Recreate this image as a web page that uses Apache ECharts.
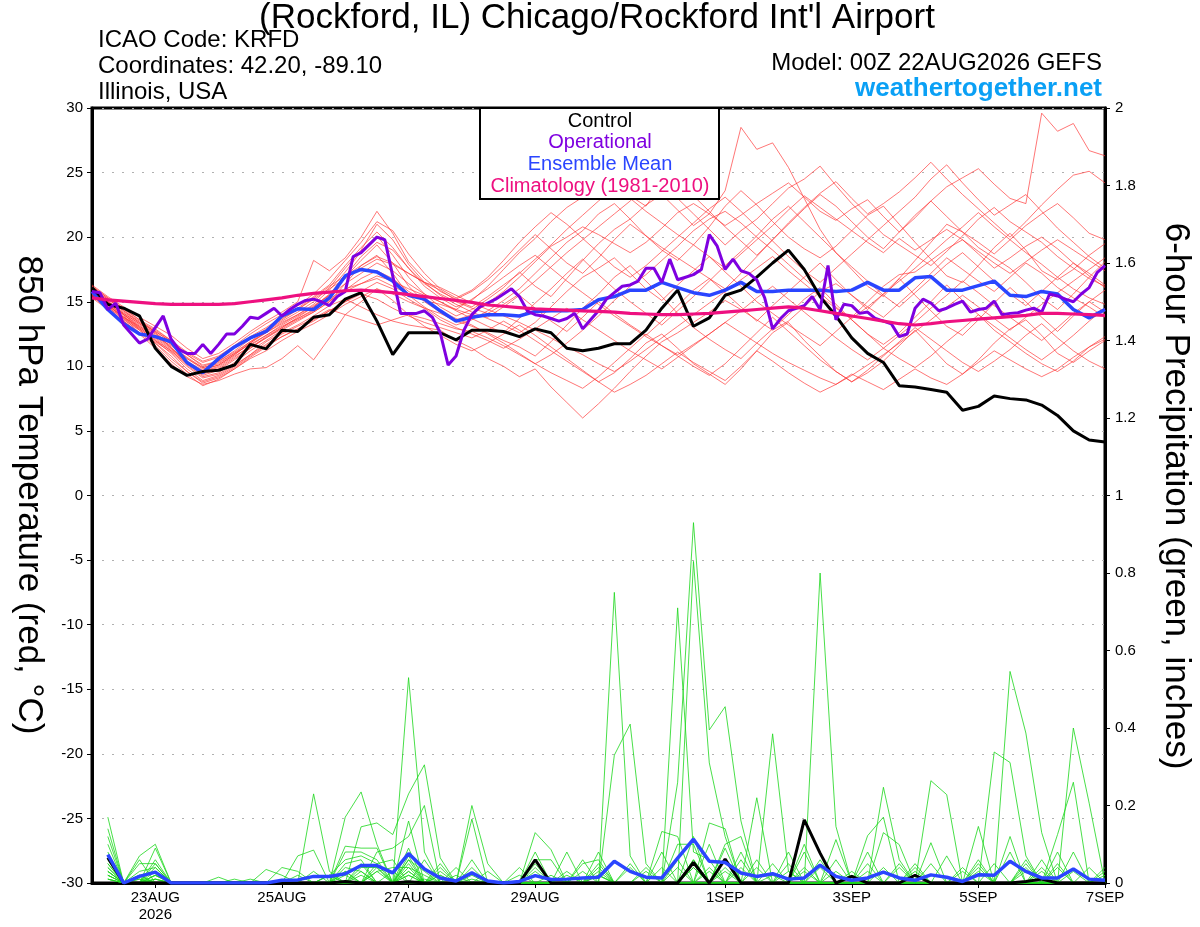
<!DOCTYPE html>
<html>
<head>
<meta charset="utf-8">
<script src="https://cdn.jsdelivr.net/npm/echarts@6/dist/echarts.min.js"></script>
<style>
  html, body { margin: 0; padding: 0; background: #fff; }
  #chart { width: 1200px; height: 927px; }
</style>
</head>
<body>
<div id="chart"></div>
<script>
// forecast hours counted from 00Z 22AUG2026
const tickHours = [24, 72, 120, 168, 240, 288, 336, 384]
const tickLabels = ['23AUG\n2026', '25AUG', '27AUG', '29AUG', '1SEP', '3SEP', '5SEP', '7SEP']

// 850 hPa temperature, 6-hourly, hour 0..384
const controlT = [
  16.1, 14.8, 14.5, 13.9, 11.4, 10.0, 9.3, 9.6, 9.7, 10.1, 11.7, 11.35, 12.8,
  12.7, 13.8, 14.0, 15.2, 15.7, 13.5, 10.9, 12.6, 12.6, 12.6, 12.05, 12.8, 12.8,
  12.7, 12.3, 12.9, 12.6, 11.4, 11.2, 11.4, 11.75, 11.75, 12.8, 14.5, 15.9, 13.1,
  13.75, 15.5, 15.9, 16.9, 18.0, 19.0, 17.5, 15.4, 13.9, 12.2, 11.0, 10.3, 8.5,
  8.4, 8.2, 8.0, 6.6, 6.9, 7.7, 7.5, 7.4, 7.0, 6.2, 5.0, 4.3, 4.15
]
const meanT = [
  15.8, 14.4, 13.3, 12.5, 12.3, 11.9, 10.3, 9.5, 10.6, 11.5, 12.2, 12.7, 13.9,
  14.45, 14.4, 15.3, 17.0, 17.5, 17.3, 16.6, 15.5, 15.2, 14.3, 13.5, 13.8, 14.0,
  14.0, 13.9, 14.25, 14.3, 14.3, 14.4, 15.15, 15.4, 15.9, 15.9, 16.5, 16.1, 15.7,
  15.5, 15.9, 16.5, 15.8, 15.8, 15.9, 15.9, 15.9, 15.8, 15.9, 16.5, 15.9, 15.9,
  16.85, 16.95, 15.9, 15.9, 16.25, 16.6, 15.5, 15.4, 15.8, 15.6, 14.4, 13.75, 14.4
]
const climT = [
  15.3, 15.15, 15.05, 14.95, 14.85, 14.8, 14.8, 14.8, 14.8, 14.85, 15.0, 15.15, 15.3,
  15.5, 15.65, 15.75, 15.85, 15.9, 15.8, 15.7, 15.55, 15.4, 15.25, 15.1, 14.95, 14.75,
  14.65, 14.55, 14.45, 14.4, 14.35, 14.3, 14.25, 14.2, 14.1, 14.05, 14.0, 14.0, 14.05,
  14.1, 14.2, 14.3, 14.4, 14.5, 14.6, 14.5, 14.3, 14.1, 13.9, 13.7, 13.5, 13.3,
  13.2, 13.3, 13.45, 13.55, 13.65, 13.75, 13.85, 13.95, 14.1, 14.1, 14.05, 14.0, 13.95
]
// operational run, 3-hourly, hour 0..384
const opT = [
  15.8, 15.7, 14.4, 14.9, 13.2, 12.5, 11.8, 12.1, 13.0, 13.9, 12.1, 11.3, 11.0, 11.0, 11.7, 11.0,
  11.7, 12.5, 12.5, 13.1, 13.8, 13.7, 14.1, 14.5, 13.9, 14.4, 14.8, 15.1, 15.2, 15.0, 14.7, 15.4,
  15.8, 18.5, 18.8, 19.4, 20.0, 19.8, 17.0, 14.1, 14.1, 14.1, 14.3, 13.8, 12.6, 10.1, 10.8, 12.8,
  14.0, 14.6, 14.9, 15.2, 15.6, 16.0, 15.4, 14.3, 14.0, 13.9, 13.7, 13.5, 13.7, 14.1, 12.9, 13.6,
  14.3, 15.2, 15.7, 16.2, 16.3, 16.6, 17.6, 17.6, 16.5, 18.3, 16.7, 16.9, 17.1, 17.5, 20.2, 19.3,
  17.5, 18.3, 17.4, 17.2, 16.7, 15.3, 12.9, 13.7, 14.3, 14.5, 14.7, 15.4, 14.4, 17.8, 13.6, 14.8,
  14.7, 14.1, 14.2, 13.7, 13.5, 13.3, 12.3, 12.5, 14.5, 15.2, 14.9, 14.3, 14.5, 14.8, 15.05, 14.2,
  14.4, 14.5, 15.05, 14.0, 14.1, 14.15, 14.35, 14.5, 14.2, 15.6, 15.45, 15.2, 15.0, 15.6, 16.1, 17.25,
  17.8
]
// ensemble members, 6-hourly, hour 0..384
const memberT = [
  [16.0,15.1,14.0,13.2,12.4,11.5,10.2,9.4,9.8,10.6,11.4,12.2,12.9,
   13.6,14.2,15.0,16.4,17.8,18.6,17.2,15.5,14.6,13.8,13.2,13.6,14.3,
   15.1,16.0,17.2,18.4,19.6,20.5,21.8,22.6,21.4,20.1,19.0,18.2,19.4,
   20.8,22.4,23.6,22.5,21.2,20.0,19.1,18.4,19.3,20.5,21.7,22.4,21.0,
   19.6,18.3,17.0,16.5,17.8,19.2,20.3,19.0,17.4,16.7,17.5,18.6,19.5],
  [15.6,14.6,13.6,12.8,11.8,10.6,9.6,8.8,9.2,9.9,10.8,11.6,12.3,
   12.9,13.5,14.3,15.0,15.6,15.2,14.5,13.9,13.4,13.0,12.6,12.2,12.8,
   13.5,12.8,12.0,11.2,10.4,9.6,8.8,9.5,10.6,11.8,12.5,11.4,10.2,
   9.4,8.6,9.8,11.2,12.6,13.4,12.0,10.8,9.6,8.8,9.5,10.4,11.6,
   12.8,11.5,10.2,9.4,10.5,11.8,12.9,13.6,12.4,11.0,10.3,11.2,12.0],
  [16.2,15.3,14.5,13.6,12.9,12.0,10.9,10.1,10.4,11.1,11.9,12.6,13.4,
   14.0,14.8,15.9,17.3,18.9,20.1,18.6,16.9,15.6,14.6,13.9,14.4,15.2,
   16.1,17.3,16.2,15.4,16.8,18.2,19.5,20.6,21.4,22.5,23.3,22.1,20.9,
   21.8,23.6,28.5,26.8,27.3,25.4,23.0,20.6,18.8,17.5,16.2,15.4,16.8,
   18.2,19.6,21.0,20.4,19.2,18.4,17.6,16.5,15.3,14.4,15.6,16.9,18.1],
  [15.8,14.9,13.9,12.9,12.0,11.0,9.8,8.9,9.3,10.0,10.9,11.9,12.6,
   13.2,13.9,14.7,15.2,14.6,14.0,13.5,13.2,13.0,12.8,12.0,11.4,10.6,
   10.0,9.2,9.8,8.4,7.2,6.0,7.1,8.3,9.6,10.8,11.9,12.6,13.4,
   14.2,15.1,14.4,13.6,12.8,13.5,14.6,15.8,16.4,15.5,14.6,13.8,14.9,
   16.0,17.2,18.4,17.5,16.6,15.8,16.9,18.0,17.2,16.1,15.3,14.6,13.8],
  [15.5,14.7,13.8,13.0,12.2,11.3,10.3,9.6,9.9,10.7,11.6,12.4,13.2,
   13.9,14.6,15.5,16.9,18.2,19.4,18.0,16.2,15.0,14.2,13.6,14.0,14.9,
   15.8,16.9,18.1,19.3,20.0,20.8,20.2,19.5,18.8,19.6,20.7,21.9,22.6,
   21.8,20.9,21.7,22.6,23.4,24.2,23.1,22.0,21.3,22.2,22.9,21.6,20.4,
   21.5,22.8,23.9,24.6,25.3,24.1,23.0,22.6,29.6,28.2,28.8,26.7,26.3],
  [15.9,14.8,13.7,12.6,11.6,10.4,9.4,8.5,9.0,9.8,10.6,11.2,12.0,
   12.7,13.3,14.0,14.8,15.4,16.0,15.6,15.0,14.5,14.1,13.5,13.1,12.6,
   12.0,11.5,10.8,11.9,13.2,14.5,15.6,16.9,17.8,16.6,15.4,14.1,13.0,
   12.1,11.3,10.6,11.8,12.9,14.0,15.2,16.1,14.8,13.6,12.5,11.7,12.6,
   13.8,15.0,16.3,15.1,14.0,12.8,11.9,11.0,10.2,9.6,10.4,11.5,12.3],
  [16.1,15.2,14.3,13.4,12.7,11.9,11.0,10.3,10.7,11.5,12.3,13.0,13.8,
   14.5,15.4,16.3,17.8,19.2,20.4,19.2,17.6,16.2,15.3,14.6,15.1,16.2,
   17.5,18.8,19.9,21.2,22.3,23.1,24.6,24.0,23.2,22.4,24.2,23.0,21.8,
   20.6,19.4,20.5,21.4,22.6,23.8,24.5,25.5,24.0,22.6,21.4,20.2,19.4,
   18.6,17.8,18.9,20.1,21.4,22.3,21.2,20.4,19.6,18.5,17.6,16.8,16.2],
  [15.7,14.9,14.1,13.3,12.5,11.7,10.6,9.8,10.1,10.9,11.8,12.7,13.5,
   14.2,15.0,16.1,17.6,19.0,21.0,19.8,17.9,16.5,15.5,14.8,14.2,13.7,
   13.2,12.6,13.4,14.6,15.8,16.9,17.6,18.4,17.2,16.0,15.1,16.3,17.4,
   18.5,17.3,16.2,15.0,14.1,13.2,12.4,11.6,12.7,13.8,15.0,16.2,17.1,
   17.3,18.2,19.1,19.8,18.7,17.6,18.4,19.3,20.0,19.1,18.0,17.2,16.3],
  [15.4,14.5,13.5,12.5,11.4,10.2,9.2,8.6,8.9,9.4,9.8,9.9,10.6,
   11.6,10.5,12.2,14.0,15.0,16.0,15.1,14.0,13.1,12.4,11.7,11.2,11.8,
   12.5,13.2,12.4,11.5,10.6,9.7,8.8,8.0,8.6,9.3,10.2,11.1,10.3,
   9.6,8.9,10.0,11.2,10.4,9.5,8.7,8.0,8.6,9.4,8.8,8.2,9.0,
   9.8,9.1,8.6,9.4,10.3,11.2,10.5,9.8,9.2,9.8,10.7,11.5,12.1],
  [16.3,15.4,14.6,13.8,13.1,12.4,11.4,10.6,11.0,11.8,12.7,13.5,14.2,
   15.0,18.2,17.4,18.4,20.0,22.0,20.3,18.1,16.8,15.8,15.2,15.8,16.7,
   17.8,19.0,20.2,19.1,18.0,17.2,18.4,19.8,21.0,20.1,19.2,18.4,17.6,
   16.8,16.0,17.2,18.5,19.8,21.0,22.2,23.3,22.4,21.2,20.0,19.1,20.4,
   21.7,22.8,21.6,20.4,19.6,18.7,19.8,20.9,21.8,22.6,21.5,20.3,19.8],
  [15.6,14.7,13.8,13.1,12.3,11.6,10.7,9.9,10.3,11.0,11.7,12.4,13.1,
   13.7,14.3,15.2,16.0,16.4,16.8,16.2,15.6,15.1,14.8,14.4,14.0,13.8,
   14.6,15.5,14.5,13.5,12.7,13.8,15.0,14.1,13.2,12.4,13.5,14.7,15.9,
   16.8,15.7,14.6,13.5,14.7,15.8,16.9,18.0,16.7,15.5,14.4,15.6,16.8,
   15.5,14.3,13.1,12.4,13.6,14.9,16.1,15.0,13.8,12.7,13.9,15.0,14.2],
  [15.9,15.0,14.0,13.0,12.1,11.2,10.1,9.2,9.5,10.3,11.2,12.0,12.8,
   13.5,14.2,15.0,15.9,16.8,17.4,16.8,15.8,15.1,14.3,13.7,13.2,12.5,
   11.8,11.0,10.2,10.9,11.8,12.8,13.9,15.1,16.2,17.1,18.2,19.3,20.5,
   21.4,22.0,21.1,20.0,19.0,17.9,16.8,15.7,14.6,13.6,12.5,11.4,10.6,
   9.9,10.8,11.9,12.9,14.0,13.1,12.2,11.3,10.5,11.4,12.4,13.5,14.5],
  [16.0,15.2,14.3,13.5,12.8,12.0,11.1,10.4,10.8,11.6,12.5,13.3,14.0,
   14.7,15.6,16.8,18.2,19.6,21.2,20.5,18.7,17.2,16.0,15.3,15.9,16.9,
   18.2,19.6,20.8,21.9,21.0,19.9,18.8,17.7,16.9,17.8,18.9,20.0,21.1,
   22.2,23.1,22.0,20.8,19.7,18.5,17.4,16.5,17.6,18.7,19.8,20.9,22.0,
   23.1,24.5,25.6,24.2,22.9,21.7,22.5,23.3,22.0,20.7,19.6,18.5,17.6],
  [15.3,14.4,13.5,12.6,11.9,11.1,10.0,9.1,9.4,10.1,10.9,11.7,12.5,
   13.1,13.7,14.4,14.0,13.6,13.2,13.6,14.0,13.7,13.3,12.9,12.7,12.2,
   11.6,10.9,10.2,9.5,8.9,8.3,9.2,10.3,11.4,12.5,11.6,10.8,10.0,
   9.3,10.2,11.4,12.6,13.8,12.7,11.6,10.5,9.6,8.8,9.7,10.8,11.9,
   13.0,12.1,11.2,10.3,9.6,10.4,11.3,12.4,13.3,12.2,11.2,10.4,9.8],
  [16.2,15.3,14.4,13.6,12.6,11.4,10.3,9.6,10.0,10.8,11.5,12.2,13.0,
   13.8,14.6,15.6,17.0,18.5,19.6,19.0,17.6,16.4,15.6,15.0,14.5,14.1,
   14.8,15.6,16.6,17.7,18.8,19.8,20.8,21.8,22.8,24.0,25.0,24.1,23.2,
   22.0,20.8,19.7,18.6,19.8,21.1,22.3,23.4,24.3,23.0,21.8,22.6,23.5,
   24.6,25.8,24.5,23.3,22.2,21.1,20.0,21.2,22.5,23.7,24.8,25.1,24.2],
  [15.8,14.8,13.8,12.8,11.8,10.8,9.6,8.7,9.1,9.8,10.7,11.5,12.3,
   12.9,13.6,14.3,15.0,15.8,16.5,16.0,15.2,14.5,13.6,13.0,12.5,12.0,
   11.4,12.1,12.9,13.7,14.5,13.6,12.8,12.0,11.2,10.5,9.8,10.7,11.6,
   12.5,13.4,14.3,15.3,16.2,15.2,14.2,13.2,12.2,11.3,10.5,11.4,12.4,
   13.4,14.5,15.5,16.6,15.7,14.7,13.8,12.9,12.0,13.0,14.1,15.0,15.9],
  [15.6,14.8,14.0,13.1,12.3,11.4,10.4,9.7,10.1,10.9,11.8,12.6,13.3,
   14.0,14.7,15.5,16.4,17.2,18.0,17.4,16.4,15.6,15.0,14.3,13.7,13.1,
   12.6,13.7,14.9,16.0,17.2,18.3,17.1,16.0,15.0,14.1,13.2,14.3,15.4,
   16.6,17.8,18.9,20.1,21.4,22.4,21.2,20.0,18.8,17.7,16.6,15.5,14.6,
   15.7,16.8,17.9,18.8,17.7,16.6,15.6,14.7,15.8,16.9,18.0,17.0,16.1],
  [16.1,15.0,14.1,13.3,12.6,11.7,10.6,9.9,10.2,11.0,11.9,12.8,13.6,
   14.4,15.2,16.0,16.8,17.6,18.3,17.9,17.2,16.5,16.1,15.5,14.9,14.4,
   13.9,13.4,12.8,12.2,11.5,10.9,10.2,9.6,10.4,11.3,12.2,13.1,14.0,
   14.9,15.8,16.7,17.6,18.5,17.4,16.4,15.4,14.5,13.7,14.6,15.6,16.6,
   17.6,18.7,19.8,20.8,21.9,20.8,19.8,18.8,17.9,16.9,16.0,15.3,14.8],
  [15.5,14.6,13.7,12.9,12.0,11.2,10.2,9.3,9.7,10.5,11.4,12.3,13.0,
   13.7,14.4,15.1,15.8,16.4,17.0,16.6,16.0,15.5,15.0,14.4,15.2,16.0,
   16.9,17.8,18.6,17.6,16.6,15.7,14.8,13.9,13.1,12.3,11.6,10.9,11.7,
   12.5,13.4,12.6,11.8,11.0,10.3,9.7,9.1,8.6,9.3,10.1,10.9,11.8,
   12.7,13.6,14.6,15.5,14.6,13.7,12.8,13.8,14.8,15.7,16.6,17.5,18.4],
  [15.8,15.0,14.2,13.4,12.7,11.9,10.9,10.0,10.4,11.2,12.1,12.9,13.7,
   14.4,15.3,16.2,17.0,17.8,18.5,18.0,17.2,16.5,15.9,15.1,14.6,15.4,
   16.3,17.2,18.3,19.4,20.6,21.7,22.8,23.8,23.0,22.0,21.1,20.2,19.4,
   18.5,17.6,18.7,19.8,20.9,22.1,23.2,22.3,21.4,20.5,19.6,18.8,19.9,
   19.0,19.8,20.6,19.8,18.9,18.0,17.2,18.1,19.0,19.8,19.0,18.2,17.4]
]

// 6-hour precipitation (inches), hour 6..384
const controlP = [
  0.065, 0, 0, 0, 0, 0, 0, 0,
  0, 0, 0, 0, 0, 0, 0, 0.004,
  0, 0, 0, 0.003, 0, 0, 0, 0,
  0, 0, 0, 0.06, 0, 0, 0, 0,
  0, 0, 0, 0, 0, 0.053, 0, 0.062,
  0, 0, 0, 0, 0.163, 0.077, 0, 0.017,
  0, 0, 0, 0.02, 0, 0, 0, 0,
  0, 0, 0.004, 0.01, 0, 0, 0, 0
]
const meanP = [
  0.073, 0, 0.017, 0.028, 0, 0, 0, 0,
  0, 0, 0, 0.007, 0.008, 0.017, 0.017, 0.024,
  0.045, 0.045, 0.026, 0.076, 0.036, 0.013, 0.005, 0.026,
  0.005, 0, 0.004, 0.019, 0.009, 0.01, 0.013, 0.015,
  0.056, 0.03, 0.015, 0.013, 0.064, 0.113, 0.056, 0.053,
  0.026, 0.017, 0.024, 0.01, 0.013, 0.046, 0.017, 0.007,
  0.013, 0.028, 0.013, 0.007, 0.021, 0.015, 0.004, 0.021,
  0.02, 0.056, 0.03, 0.013, 0.013, 0.036, 0.01, 0.007
]
const memberP = [
  [.17,0,0,.05,0,0,0,0, 0,0,0,0,0,.23,.03,0, .05,0,0,.53,.08,0,0,0, 0,0,0,0,0,0,0,0,
   .75,.07,0,0,0,.05,0,0, 0,0,0,0,0,.8,.146,0, 0,0,0,0,0,0,0,0, .05,0,0,0,0,0,0,0],
  [.14,0,.07,.1,0,0,0,0, 0,0,0,0,0,0,0,.17, .235,.1,0,.06,0,0,0,.2, .05,0,0,0,0,0,0,0,
   0,0,0,0,.26,.93,.395,.455, .16,0,0,0,0,0,0,0, 0,.247,.06,0,0,0,0,0, 0,.546,.387,.13,0,0,0,0],
  [.12,0,0,.09,0,0,0,0, 0,0,0,0,.07,.085,0,0, .145,.155,.125,.23,.305,.065,0,0, 0,0,0,0,0,0,0,0,
   .33,.41,.05,0,0,.12,0,0, 0,0,.385,.03,0,0,0,0, 0,0,0,0,.264,.228,0,0, 0,0,0,0,0,.4,.206,0],
  [.1,0,.06,0,0,0,0,0, 0,0,0,0,0,0,0,.095, .09,.09,0,.16,0,0,0,0, 0,0,0,.13,.086,0,0,0,
   0,0,0,0,.71,.08,.06,0, 0,0,0,0,0,0,0,0, .122,.17,0,0,0,0,0,0, .338,.311,.07,0,0,0,0,0],
  [.08,0,0,.06,0,0,0,0, 0,0,0,.04,.03,0,0,0, 0,.08,.09,.12,.2,0,0,.165, 0,0,0,0,0,0,0,.08,
   0,0,0,0,0,.83,.31,.12, 0,.22,0,0,0,0,0,0, 0,0,0,0,.104,0,0,0, 0,0,0,0,.125,.26,0,0],
  [.07,0,.05,.05,0,0,0,0, 0,0,0,0,0,0,0,.08, .08,.06,0,.09,0,0,0,0, 0,0,0,.08,0,0,0,0,
   0,0,0,.133,.12,0,.155,.14, 0,0,0,0,0,0,0,0, 0,.13,.099,0,0,0,0,.146, 0,.12,0,0,0,0,0,0],
  [.06,0,0,.04,0,0,0,0, 0,0,0,0,0,0,.02,.06, .07,.05,0,0,0,.05,0,0, 0,0,0,0,0,.08,0,0,
   0,0,0,0,.1,.1,0,.1, .12,0,0,0,0,0,.112,0, 0,0,0,0,0,0,0,.06, 0,0,0,0,0,0,0,.04],
  [.05,0,.03,.04,0,0,0,0, 0,0,.035,.02,0,0,0,.05, .06,0,0,.07,0,0,0,.06, 0,0,0,0,0,0,.05,.06,
   0,0,0,0,0,0,0,.09, 0,0,0,0,.1,0,0,0, .08,0,0,0,0,0,0,0, 0,0,.06,0,0,.08,0,0],
  [.05,0,0,.03,0,0,0,0, 0,0,0,0,0,.03,0,0, 0,.05,.06,0,.06,0,0,0, 0,0,.04,0,0,0,0,.05,
   0,0,0,0,0,.06,0,0, .08,0,0,0,0,.06,0,0, 0,0,.05,0,0,0,0,.05, 0,0,0,0,0,0,0,0],
  [.04,0,.02,.03,0,0,0,0, 0,0,0,0,0,0,.02,0, .04,.04,0,.06,.03,0,0,0, 0,0,0,.06,.06,0,0,0,
   0,0,.04,0,0,0,0,.06, 0,0,0,.08,0,0,0,0, .05,0,0,.05,0,0,0,0, 0,0,0,.06,0,0,0,0],
  [.04,0,0,.02,0,0,0,0, 0,0,0,0,0,0,0,.04, .03,0,0,.05,0,.04,0,0, 0,0,0,0,0,.03,0,.04,
   0,0,0,0,0,.05,0,0, 0,.06,0,0,.08,0,0,0, 0,0,0,0,0,.07,0,0, 0,0,0,0,.08,0,0,0],
  [.03,0,.02,0,0,0,0,0, 0,0,0,0,.02,0,0,0, 0,.03,.04,.04,0,0,.04,0, 0,0,0,.05,0,0,0,0,
   0,.05,0,0,0,0,.1,0, .06,0,0,0,0,0,0,.03, 0,0,0,0,0,0,0,.04, 0,0,.05,0,0,0,0,0],
  [.03,0,0,.02,0,0,0,0, 0,0,0,0,0,0,0,.03, 0,0,0,.04,.02,0,0,.04, 0,0,0,0,0,0,.06,0,
   0,0,0,0,.06,0,0,.06, 0,0,.05,0,0,0,.06,0, 0,0,0,.04,0,0,0,0, 0,.08,0,0,0,0,0,0],
  [.03,0,.02,0,0,0,0,.015, 0,0,0,0,0,0,.02,0, 0,0,0,0,0,.03,0,0, .03,0,0,.04,0,0,0,0,
   0,0,0,.08,0,.04,0,0, 0,0,0,.05,0,0,0,0, 0,.04,0,0,0,0,0,0, 0,0,0,0,.05,0,0,0],
  [.02,0,0,.01,0,0,0,0, 0,0,0,0,0,0,0,0, 0,.03,0,.03,0,.02,0,0, 0,0,.02,0,0,0,0,.03,
   0,0,0,0,0,0,.04,0, 0,.04,0,0,.04,0,0,0, 0,0,.04,0,0,0,0,0, 0,0,.04,0,0,0,0,0],
  [.02,0,.01,0,0,0,0,0, .01,0,0,0,0,0,0,.02, 0,0,0,.03,0,0,0,.02, 0,0,0,0,.02,0,0,.02,
   0,0,.03,0,0,0,0,.04, 0,0,0,.03,0,0,0,.02, 0,0,0,0,0,0,0,.03, 0,0,0,0,.04,0,0,.03],
  [.02,0,0,.01,0,0,0,0, 0,0,0,0,0,0,0,0, .03,0,0,0,.01,0,0,0, 0,0,0,0,0,.02,0,0,
   0,0,0,.04,0,.04,0,0, .04,0,0,0,.03,0,0,0, 0,0,0,.03,0,0,0,0, 0,0,0,.04,0,0,0,0],
  [.01,0,.01,0,0,0,0,0, 0,.01,0,0,0,0,0,0, 0,.04,0,.02,0,0,.02,0, 0,0,0,0,0,0,.03,0,
   0,.04,0,0,0,0,.03,0, 0,0,0,0,0,.04,0,0, 0,0,0,0,.05,0,0,0, 0,0,0,.03,0,0,0,.02],
  [.01,0,0,.02,0,0,0,0, 0,0,0,0,0,0,0,.03, 0,0,.03,0,0,.02,0,0, 0,0,0,.03,0,0,0,.02,
   0,0,0,0,.04,0,0,.03, 0,0,.02,0,0,0,0,0, .03,0,0,0,0,0,.04,0, 0,0,0,0,0,.03,0,0],
  [.01,0,0,.01,0,0,0,0, 0,0,0,0,0,0,0,0, .02,0,0,.02,0,0,0,.01, 0,0,0,0,0,0,0,.02,
   0,0,0,0,0,.06,0,0, 0,0,0,0,0,0,.03,0, 0,0,0,0,0,0,.03,0, 0,0,.03,0,0,0,.04,0]
]

const FONT = '"Liberation Sans", Arial, Helvetica, sans-serif'

function toPairs(values, step, start) {
  return values.map((v, i) => [start + i * step, v])
}

function line(data, yAxisIndex, color, width, z) {
  return {
    type: 'line',
    data,
    yAxisIndex,
    showSymbol: false,
    symbol: 'none',
    silent: true,
    z: z || 2,
    lineStyle: { color, width }
  }
}

const series = []
memberT.forEach(m => series.push(line(toPairs(m, 6, 0), 0, 'rgba(255,50,50,0.75)', 0.9, 2)))
memberP.forEach(m => series.push(line(toPairs(m, 6, 6), 1, 'rgba(30,215,30,0.9)', 0.9, 2)))
series.push(line(toPairs(controlP, 6, 6), 1, '#000000', 3, 3))
series.push(line(toPairs(meanP, 6, 6), 1, '#2a45ff', 3.5, 3))
series.push(line(toPairs(meanT, 6, 0), 0, '#2a45ff', 3.5, 3))
series.push(line(toPairs(controlT, 6, 0), 0, '#000000', 3, 3))
series.push(line(toPairs(opT, 3, 0), 0, '#7f00e0', 3, 3))
series.push(line(toPairs(climT, 6, 0), 0, '#ee1080', 3.2, 3))

function text(str, x, y, opts) {
  return {
    type: 'text',
    z: 100,
    x, y,
    rotation: opts.rotation || 0,
    style: {
      text: str,
      fill: opts.color || '#000',
      font: (opts.weight || 'normal') + ' ' + opts.size + 'px ' + FONT,
      textAlign: opts.align || 'left',
      textVerticalAlign: 'middle'
    }
  }
}

const chart = echarts.init(document.getElementById('chart'))
chart.setOption({
  animation: false,
  backgroundColor: '#fff',
  grid: {
    left: 92, right: 95, top: 108, bottom: 44,
    show: true, borderColor: '#000', borderWidth: 3
  },
  xAxis: {
    type: 'value',
    min: 0,
    max: 384,
    axisLine: { show: true, onZero: false, lineStyle: { color: '#000', width: 3 } },
    axisTick: { show: true, customValues: tickHours, length: 5, lineStyle: { color: '#000', width: 1 } },
    axisLabel: {
      customValues: tickHours,
      formatter: v => tickLabels[tickHours.indexOf(v)] || '',
      color: '#000', fontSize: 15, fontFamily: FONT, margin: 6, lineHeight: 17
    },
    splitLine: { show: false }
  },
  yAxis: [
    {
      type: 'value', min: -30, max: 30, interval: 5, position: 'left',
      axisLine: { show: true, lineStyle: { color: '#000', width: 3 } },
      axisTick: { show: true, length: 5, lineStyle: { color: '#000' } },
      axisLabel: { color: '#000', fontSize: 15, fontFamily: FONT, margin: 9 },
      splitLine: { show: true, lineStyle: { color: '#b0b0b0', width: 1, type: [2, 8] } }
    },
    {
      type: 'value', min: 0, max: 2, interval: 0.2, position: 'right',
      axisLine: { show: true, lineStyle: { color: '#000', width: 3 } },
      axisTick: { show: true, length: 5, lineStyle: { color: '#000' } },
      axisLabel: {
        color: '#000', fontSize: 15, fontFamily: FONT, margin: 10,
        formatter: v => String(Math.round(v * 10) / 10)
      },
      splitLine: { show: false }
    }
  ],
  graphic: [
    text("(Rockford, IL) Chicago/Rockford Int'l Airport", 597, 18, { size: 35, align: 'center' }),
    text('ICAO Code: KRFD', 98, 40, { size: 24 }),
    text('Coordinates: 42.20, -89.10', 98, 66, { size: 24 }),
    text('Illinois, USA', 98, 92, { size: 24 }),
    text('Model: 00Z 22AUG2026 GEFS', 1102, 63, { size: 24, align: 'right' }),
    text('weathertogether.net', 1102, 89, { size: 26, align: 'right', weight: 'bold', color: '#0aa0f5' }),
    text('850 hPa Temperature (red, °C)', 29, 495, { size: 35, align: 'center', rotation: -Math.PI / 2 }),
    text('6-hour Precipitation (green, inches)', 1176, 496, { size: 35, align: 'center', rotation: -Math.PI / 2 }),
    {
      type: 'rect', z: 99,
      shape: { x: 480, y: 108, width: 239, height: 91 },
      style: { fill: '#fff', stroke: '#000', lineWidth: 2 }
    },
    text('Control', 600, 121, { size: 20, align: 'center' }),
    text('Operational', 600, 142, { size: 20, align: 'center', color: '#7f00e0' }),
    text('Ensemble Mean', 600, 164, { size: 20, align: 'center', color: '#2a45ff' }),
    text('Climatology (1981-2010)', 600, 186, { size: 20, align: 'center', color: '#ee1080' })
  ],
  series
})
</script>
</body>
</html>
